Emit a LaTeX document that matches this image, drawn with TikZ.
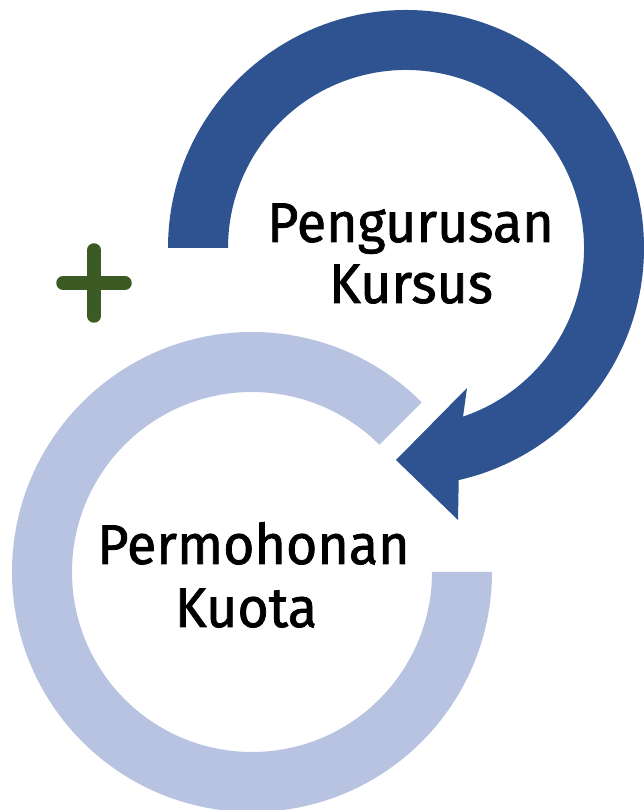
\documentclass[tikz,border=0pt]{standalone}
\usepackage{fontspec}
\newfontfamily\lblfont{Fira Sans}[FakeBold=1.3, FakeStretch=0.96]
\usetikzlibrary{calc}
\definecolor{darkblue}{HTML}{2F5390}
\definecolor{lightblue}{HTML}{B7C3E1}
\definecolor{plusgreen}{HTML}{3B5A24}
\tikzset{
  lbl/.style={anchor=base, font=\lblfont\fontsize{56}{62}\selectfont, text=black, inner sep=0pt},
}
\begin{document}
\begin{tikzpicture}[x=1pt,y=1pt]
\useasboundingbox (0,0) rectangle (644,810);
% light ring (Permohonan Kuota)
\coordinate (lc) at (252,238);
\fill[lightblue] ($(lc)+(45:240)$) arc[start angle=45, end angle=360, radius=240]
  -- ($(lc)+(0:180)$) arc[start angle=360, end angle=45, radius=180] -- cycle;
% dark arrow (Pengurusan Kursus)
\coordinate (dc) at (406,562);
\coordinate (barbB) at (458,290);
\coordinate (tip) at (396,350);
\coordinate (barbT) at (467,422);
\fill[darkblue] ($(dc)+(180:238)$) arc[start angle=180, end angle=-77.2, radius=238]
  -- (barbB) -- (tip) -- (barbT)
  -- ($(dc)+(-71.3:178)$) arc[start angle=-71.3, end angle=180, radius=178] -- cycle;
% plus
\coordinate (pc) at (94,527);
\draw[plusgreen, line width=13.5pt, line cap=round] ($(pc)+(0,33)$) -- ($(pc)+(0,-33)$);
\draw[plusgreen, line width=13.5pt, line cap=round] ($(pc)+(-31,0)$) -- ($(pc)+(31,0)$);
% labels
\node[lbl] (t1a) at (410.5,568) {Pengurusan};
\node[lbl] (t1b) at (411,507) {Kursus};
\node[lbl] (t2a) at (253.5,246) {Permohonan};
\node[lbl] (t2b) at (246,183) {Kuota};
\end{tikzpicture}
\end{document}
